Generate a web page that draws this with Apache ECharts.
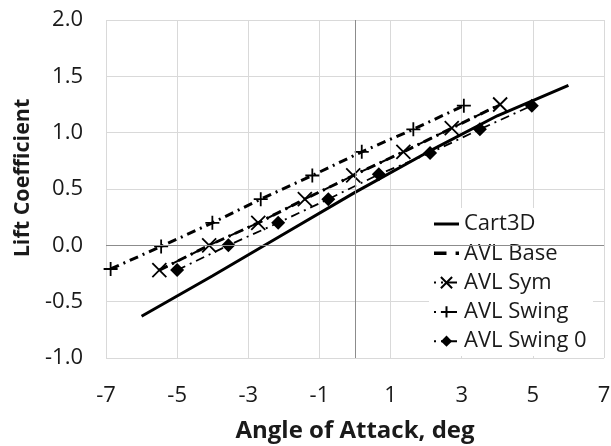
<!DOCTYPE html>
<html>
<head>
<meta charset="utf-8">
<script src="https://cdn.jsdelivr.net/npm/echarts@6/dist/echarts.min.js"></script>
<style>html,body{margin:0;padding:0;background:#fff}#c{width:611px;height:446px}</style>
</head>
<body>
<div id="c"></div>
<script>
// ---- data ----
const xTicks = [-7, -5, -3, -1, 1, 3, 5, 7];
const yTicks = [-1.0, -0.5, 0.0, 0.5, 1.0, 1.5, 2.0];

const cart3dAoA = [-6, -4, -2, 0, 2, 4, 6];
const cart3dCL  = [-0.63, -0.27, 0.10, 0.47, 0.82, 1.15, 1.42];

const baseAoA = [-5.5, -4.1, -2.72, -1.41, -0.05, 1.36, 2.72, 4.08];
const baseCL  = [-0.22, 0.0, 0.20, 0.41, 0.62, 0.83, 1.04, 1.25];

const symAoA = [-5.5, -4.1, -2.72, -1.41, -0.05, 1.36, 2.72, 4.08];
const symCL  = [-0.22, 0.0, 0.20, 0.41, 0.62, 0.83, 1.04, 1.25];

const swingAoA = [-6.87, -5.45, -4.01, -2.65, -1.2, 0.19, 1.64, 3.06];
const swingCL  = [-0.21, -0.01, 0.20, 0.41, 0.62, 0.83, 1.03, 1.24];

const swing0AoA = [-5.0, -3.56, -2.16, -0.75, 0.67, 2.11, 3.51, 4.97];
const swing0CL  = [-0.22, 0.0, 0.20, 0.41, 0.63, 0.82, 1.03, 1.24];

const seriesNames = ['Cart3D', 'AVL Base', 'AVL Sym', 'AVL Swing', 'AVL Swing 0'];

const zip = (a, b) => a.map((v, i) => [v, b[i]]);
const FONT = '"Open Sans", "Liberation Sans", sans-serif';
const TXT = '#1a1a1a';
const dashDot = [9, 5, 2, 5];

const chart = echarts.init(document.getElementById('c'), null, {renderer: 'canvas'});
chart.setOption({
  animation: false,
  backgroundColor: '#fff',
  textStyle: {fontFamily: FONT},
  grid: {left: 106, right: 7, top: 20, bottom: 88, containLabel: false, outerBoundsMode: 'none'},
  xAxis: {
    type: 'value', min: -7, max: 7,
    name: 'Angle of Attack, deg', nameLocation: 'middle', nameGap: 61,
    nameTextStyle: {fontFamily: FONT, fontSize: 24, fontWeight: 'bold', color: TXT},
    axisLine: {show: false},
    axisTick: {show: false, customValues: xTicks},
    axisLabel: {customValues: xTicks, fontFamily: FONT, fontSize: 22, color: TXT, margin: 27},
    splitLine: {show: true, lineStyle: {color: '#d9d9d9', width: 1}}
  },
  yAxis: {
    type: 'value', min: -1, max: 2, interval: 0.5,
    name: 'Lift Coefficient', nameLocation: 'middle', nameGap: 71,
    nameTextStyle: {fontFamily: FONT, fontSize: 21.5, fontWeight: 'bold', color: TXT, padding: [0, 0, 0, 22]},
    axisLine: {show: false},
    axisTick: {show: false},
    axisLabel: {formatter: v => v.toFixed(1), fontFamily: FONT, fontSize: 22, color: TXT, margin: 23},
    splitLine: {show: true, lineStyle: {color: '#d9d9d9', width: 1}}
  },
  legend: {
    data: [
      {name: seriesNames[0], icon: 'path://M0,0H25V3H0Z'},
      {name: seriesNames[1], icon: 'path://M0,0H11V3H0ZM19,0H22V3H19Z'},
      {name: seriesNames[2]},
      {name: seriesNames[3]},
      {name: seriesNames[4]}
    ],
    orient: 'vertical', left: 429, top: 208,
    padding: [5, 10, 5, 4],
    itemWidth: 25, itemHeight: 14, itemGap: 7.3, itemTextGap: 1,
    selectedMode: false,
    textStyle: {fontFamily: FONT, fontSize: 22, color: TXT, lineHeight: 22},
    z: 5
  },
  graphic: [{
    type: 'rect', z: 4, silent: true,
    shape: {x: 429, y: 208, width: 164, height: 148},
    style: {fill: '#fff'}
  }],
  series: [
    {
      name: 'axes0', type: 'line', data: [], z: 1, silent: true,
      markLine: {
        silent: true, symbol: 'none', label: {show: false}, animation: false,
        lineStyle: {color: '#8c8c8c', type: 'solid', width: 1},
        data: [{xAxis: 0}, {yAxis: 0}]
      }
    },
    {
      name: 'Cart3D', type: 'line', data: zip(cart3dAoA, cart3dCL),
      symbol: 'none', lineStyle: {color: '#000', width: 3, type: 'solid'},
      itemStyle: {color: '#000'}, z: 3
    },
    {
      name: 'AVL Base', type: 'line', data: zip(baseAoA, baseCL),
      symbol: 'none', lineStyle: {color: '#000', width: 3, type: dashDot},
      itemStyle: {color: '#000'}, z: 3
    },
    {
      name: 'AVL Sym', type: 'line', data: zip(symAoA, symCL),
      symbol: 'path://M0,0L10,10M10,0L0,10', symbolSize: 14, showSymbol: true,
      lineStyle: {color: '#000', width: 2, type: dashDot, dashOffset: 7},
      itemStyle: {color: '#000', borderColor: '#000', borderWidth: 1.8}, z: 3
    },
    {
      name: 'AVL Swing', type: 'line', data: zip(swingAoA, swingCL),
      symbol: 'path://M5,0L5,10M0,5L10,5', symbolSize: 14, showSymbol: true,
      lineStyle: {color: '#000', width: 3, type: dashDot},
      itemStyle: {color: '#000', borderColor: '#000', borderWidth: 1.8}, z: 3
    },
    {
      name: 'AVL Swing 0', type: 'line', data: zip(swing0AoA, swing0CL),
      symbol: 'diamond', symbolSize: 14, showSymbol: true,
      lineStyle: {color: '#000', width: 1.8, type: dashDot},
      itemStyle: {color: '#000'}, z: 3
    }
  ]
});
</script>
</body>
</html>
